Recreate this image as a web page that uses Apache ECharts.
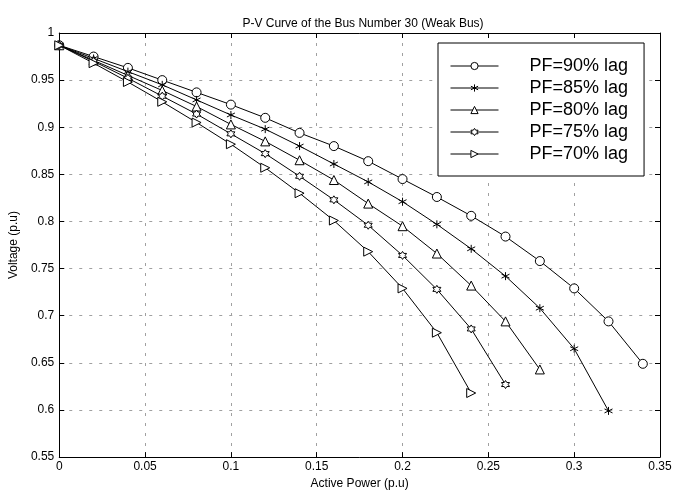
<!DOCTYPE html>
<html><head><meta charset="utf-8">
<script src="https://cdn.jsdelivr.net/npm/echarts@6/dist/echarts.min.js"></script>
<style>html,body{margin:0;padding:0;background:#fff}#c{width:675px;height:495px}</style>
</head><body><div id="c"></div>
<script>
const xValues = [0,0.02,0.04,0.06,0.08,0.10,0.12,0.14,0.16,0.18,0.20,0.22,0.24,0.26,0.28,0.30,0.32,0.34];
const pf90 = [0.987,0.975,0.963,0.950,0.937,0.924,0.910,0.894,0.880,0.864,0.845,0.826,0.806,0.784,0.758,0.729,0.694,0.649];
const pf85 = [0.987,0.973,0.959,0.945,0.929,0.913,0.898,0.880,0.861,0.842,0.821,0.797,0.771,0.742,0.708,0.665,0.599];
const pf80 = [0.987,0.971,0.955,0.939,0.922,0.903,0.885,0.865,0.844,0.819,0.795,0.766,0.732,0.694,0.643];
const pf75 = [0.987,0.970,0.952,0.933,0.914,0.893,0.872,0.848,0.823,0.796,0.764,0.728,0.686,0.627];
const pf70 = [0.987,0.968,0.948,0.927,0.905,0.882,0.857,0.830,0.801,0.768,0.729,0.682,0.618];
const seriesNames = ['PF=90% lag','PF=85% lag','PF=80% lag','PF=75% lag','PF=70% lag'];
const xTicks = [0,0.05,0.1,0.15,0.2,0.25,0.3,0.35];
const yTicks = [0.55,0.6,0.65,0.7,0.75,0.8,0.85,0.9,0.95,1];

const asterisk = 'path://M0,-10 L0,10 M-8.66,-5 L8.66,5 M-8.66,5 L8.66,-5';
const hexagram = 'path://M0,-10 L2.89,-5 L8.66,-5 L5.77,0 L8.66,5 L2.89,5 L0,10 L-2.89,5 L-8.66,5 L-5.77,0 L-8.66,-5 L-2.89,-5 Z';
const rtri = 'path://M0,0 L10,5 L0,10 Z';
const symbols = ['circle', asterisk, 'triangle', hexagram, rtri];
const sizes = [9, 8, 9, 8, 9];
const allData = [pf90,pf85,pf80,pf75,pf70];

const font = 'Liberation Sans, Arial, sans-serif';
const chart = echarts.init(document.getElementById('c'), null, {renderer:'canvas'});
const gridLine = {show:true, lineStyle:{color:'#a0a0a0', type:[3,7], width:1}};
const axisCommon = {
  axisLine:{show:true, onZero:false, lineStyle:{color:'#000', width:1}},
  axisTick:{show:true, inside:true, length:5, lineStyle:{color:'#000'}},
};
chart.setOption({
  animation:false,
  backgroundColor:'#fff',
  title:{text:'P-V Curve of the Bus Number 30 (Weak Bus)', left:358, textAlign:'center', top:13,
    textStyle:{fontFamily:font, fontSize:12, fontWeight:'normal', color:'#000'}},
  grid:{left:57, right:15, top:33, bottom:32, containLabel:false},
  legend:{
    orient:'vertical', left:438, top:43, width:205,
    backgroundColor:'#fff', borderColor:'#000', borderWidth:1,
    padding:[14,16,13,12], itemGap:4, itemWidth:48, itemHeight:9,
    lineStyle:{width:1},
    itemStyle:{borderWidth:1},
    textStyle:{fontFamily:font, fontSize:18, lineHeight:18, color:'#000', padding:[0,0,0,26]},
    data: seriesNames
  },
  xAxis:[
    Object.assign({type:'value', min:0, max:0.35, interval:0.05, position:'bottom',
      name:'Active Power (p.u)', nameLocation:'middle', nameGap:19,
      nameTextStyle:{fontFamily:font, fontSize:12, color:'#000'},
      axisLabel:{fontFamily:font, fontSize:12, color:'#000', margin:4,
        formatter:v=>String(parseFloat(v.toFixed(2)))},
      splitLine:gridLine}, axisCommon),
    Object.assign({type:'value', min:0, max:0.35, interval:0.05, position:'top',
      axisLabel:{show:false}, splitLine:{show:false}}, axisCommon)
  ],
  yAxis:[
    Object.assign({type:'value', min:0.55, max:1, interval:0.05, position:'left',
      name:'Voltage (p.u)', nameLocation:'middle', nameGap:36,
      nameTextStyle:{fontFamily:font, fontSize:12, color:'#000'},
      axisLabel:{fontFamily:font, fontSize:12, color:'#000', margin:5,
        formatter:v=>String(parseFloat(v.toFixed(2)))},
      splitLine:gridLine}, axisCommon),
    Object.assign({type:'value', min:0.55, max:1, interval:0.05, position:'right',
      axisLabel:{show:false}, splitLine:{show:false}}, axisCommon)
  ],
  series: allData.map((d,i)=>({
    name: seriesNames[i], type:'line',
    data: d.map((v,j)=>[xValues[j], v]),
    symbol: symbols[i], symbolSize: sizes[i], showSymbol:true,
    lineStyle:{color:'#000', width:1},
    itemStyle:{color: i===1 ? '#000' : '#fff', borderColor:'#000', borderWidth:1},
    emphasis:{disabled:true}
  }))
});
</script></body></html>
